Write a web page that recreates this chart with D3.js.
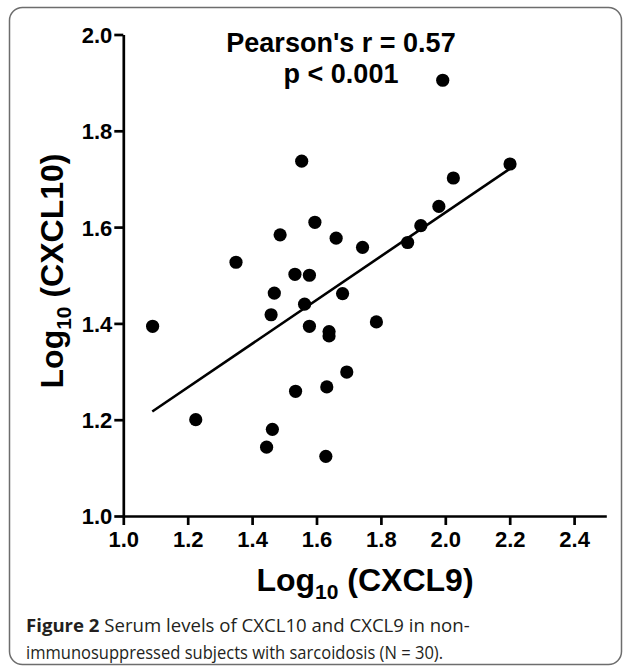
<!DOCTYPE html>
<html>
<head>
<meta charset="utf-8">
<script src="https://cdn.jsdelivr.net/npm/d3@7"></script>
<style>
  html, body { margin: 0; padding: 0; background: #fff; }
  svg { display: block; }
</style>
</head>
<body>
<svg id="chart" width="627" height="670"></svg>
<script>
// ---- data ----
const cxcl9 = [1.091, 1.459, 1.563, 1.578, 1.639, 1.639, 1.786, 1.694, 1.632, 1.535,
               1.225, 1.463, 1.445, 1.629, 1.469, 1.681, 1.578, 1.533, 1.350, 1.487,
               1.595, 1.661, 1.743, 1.554, 1.883, 1.924, 1.980, 2.025, 2.201, 1.992];
const cxcl10 = [1.394, 1.418, 1.440, 1.394, 1.383, 1.374, 1.403, 1.299, 1.268, 1.259,
                1.200, 1.180, 1.143, 1.124, 1.463, 1.462, 1.500, 1.502, 1.527, 1.584,
                1.610, 1.577, 1.558, 1.737, 1.568, 1.603, 1.643, 1.702, 1.731, 1.905];
const fitX = [1.09, 2.20];
const fitY = [1.217, 1.721];
const xTicks = [1.0, 1.2, 1.4, 1.6, 1.8, 2.0, 2.2, 2.4];
const yTicks = [1.0, 1.2, 1.4, 1.6, 1.8, 2.0];
const xDomain = [1.0, 2.5];
const yDomain = [1.0, 2.0];
const statLines = ["Pearson's r = 0.57", "p < 0.001"];
const captionBold = "Figure 2";
const captionLine1 = " Serum levels of CXCL10 and CXCL9 in non-";
const captionLine2 = "immunosuppressed subjects with sarcoidosis (N = 30).";

// ---- layout ----
const svg = d3.select("#chart");
const x = d3.scaleLinear().domain(xDomain).range([123.3, 606.3]);
const y = d3.scaleLinear().domain(yDomain).range([516, 34.5]);
const font = "'Liberation Sans', Arial, Helvetica, sans-serif";

// frame
svg.append("rect")
  .attr("x", 9.5).attr("y", 7.5).attr("width", 612).attr("height", 657)
  .attr("rx", 13).attr("ry", 13)
  .attr("fill", "none").attr("stroke", "#6d6d6d").attr("stroke-width", 1.5);

// axes
const xAxis = d3.axisBottom(x).tickValues(xTicks).tickSize(9).tickSizeOuter(0)
  .tickPadding(6).tickFormat(d3.format(".1f"));
const yAxis = d3.axisLeft(y).tickValues(yTicks).tickSize(9).tickSizeOuter(0)
  .tickPadding(2).tickFormat(d3.format(".1f"));

const gx = svg.append("g").attr("transform", `translate(0,${y(1.0)})`).call(xAxis);
const gy = svg.append("g").attr("transform", `translate(${x(1.0)},0)`).call(yAxis);
[gx, gy].forEach(g => {
  g.select(".domain").attr("stroke", "#000").attr("stroke-width", 2.7);
  g.selectAll(".tick line").attr("stroke", "#000").attr("stroke-width", 2.7);
  g.selectAll(".tick text").attr("fill", "#000")
    .style("font-family", font).style("font-weight", "bold").style("font-size", "22px");
});
gy.selectAll(".tick text").attr("dy", "0.36em");

// regression line
svg.append("line")
  .attr("x1", x(fitX[0])).attr("y1", y(fitY[0]))
  .attr("x2", x(fitX[1])).attr("y2", y(fitY[1]))
  .attr("stroke", "#000").attr("stroke-width", 2.6);

// points
svg.append("g").selectAll("circle")
  .data(cxcl9.map((v, i) => ({ x: v, y: cxcl10[i] })))
  .join("circle")
  .attr("cx", d => x(d.x)).attr("cy", d => y(d.y)).attr("r", 6.6)
  .attr("fill", "#000");

// stats text
svg.append("text").attr("x", 341).attr("y", 52).attr("text-anchor", "middle")
  .style("font-family", font).style("font-weight", "bold").style("font-size", "27px")
  .text(statLines[0]);
svg.append("text").attr("x", 341).attr("y", 83).attr("text-anchor", "middle")
  .style("font-family", font).style("font-weight", "bold").style("font-size", "27px")
  .text(statLines[1]);

// axis titles
const xt = svg.append("text").attr("x", 365).attr("y", 591).attr("text-anchor", "middle")
  .style("font-family", font).style("font-weight", "bold").style("font-size", "32px");
xt.append("tspan").text("Log");
xt.append("tspan").attr("dy", 8).style("font-size", "21px").text("10");
xt.append("tspan").attr("dy", -8).text(" (CXCL9)");

const yt = svg.append("text").attr("transform", "translate(63,271) rotate(-90)")
  .attr("text-anchor", "middle")
  .style("font-family", font).style("font-weight", "bold").style("font-size", "32px");
yt.append("tspan").text("Log");
yt.append("tspan").attr("dy", 8).style("font-size", "21px").text("10");
yt.append("tspan").attr("dy", -8).text(" (CXCL10)");

// caption
const capFont = "'Open Sans', 'Noto Sans', sans-serif";
const c1 = svg.append("text").attr("x", 26).attr("y", 632)
  .style("font-family", capFont).style("font-size", "18.6px").attr("fill", "#231f20");
c1.append("tspan").style("font-weight", "bold").text(captionBold);
c1.append("tspan").text(captionLine1);
const c2 = svg.append("text").attr("x", 26).attr("y", 659)
  .style("font-family", capFont).style("font-size", "18.6px").attr("fill", "#231f20")
  .text(captionLine2);
const len1 = c1.node().getComputedTextLength();
const len2 = c2.node().getComputedTextLength();
const target2 = Math.min(len2, len1 * 0.94);
c2.attr("textLength", target2).attr("lengthAdjust", "spacingAndGlyphs");
</script>
</body>
</html>
